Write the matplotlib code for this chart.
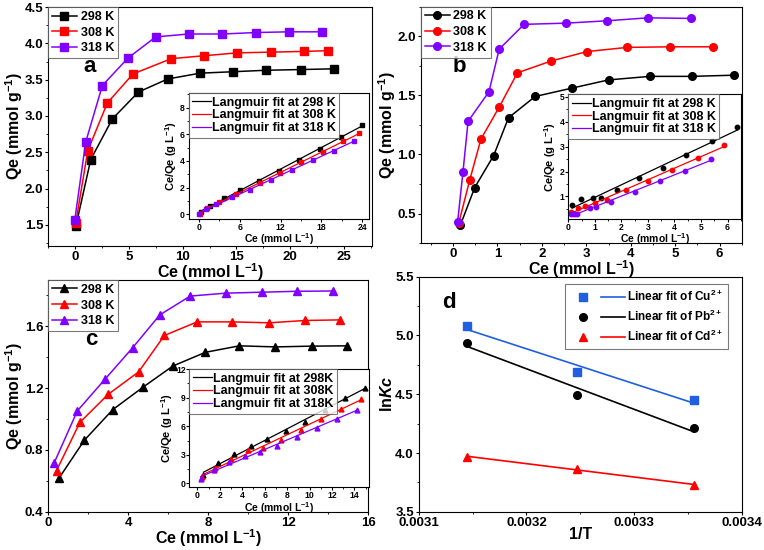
import matplotlib
matplotlib.use("Agg")
import matplotlib.pyplot as plt
import numpy as np
from matplotlib.ticker import MultipleLocator, FormatStrFormatter
from matplotlib.legend_handler import HandlerTuple

plt.rcParams["font.family"] = ["Liberation Sans", "DejaVu Sans"]
plt.rcParams["font.weight"] = "bold"
plt.rcParams["axes.labelweight"] = "bold"
plt.rcParams["mathtext.fontset"] = "custom"
plt.rcParams["mathtext.rm"] = "Liberation Sans:bold"
plt.rcParams["mathtext.bf"] = "Liberation Sans:bold"
plt.rcParams["mathtext.it"] = "Liberation Sans:bold:italic"
plt.rcParams["mathtext.default"] = "bf"

temps = ["298 K", "308 K", "318 K"]
colors = ["#000000", "#ff0000", "#8000ff"]

# panel a (squares)
a_ce = [
    [0.09, 1.46, 3.47, 5.89, 8.61, 11.62, 14.7, 17.7, 20.97, 24.07],
    [0.06, 1.18, 3.0, 5.39, 8.95, 11.96, 15.06, 18.19, 21.25, 23.51],
    [-0.03, 0.99, 2.54, 4.93, 7.5, 10.56, 13.69, 16.79, 19.86, 22.99],
]
a_qe = [
    [1.49, 2.40, 2.96, 3.33, 3.51, 3.59, 3.61, 3.63, 3.64, 3.65],
    [1.52, 2.52, 3.18, 3.58, 3.79, 3.83, 3.87, 3.88, 3.89, 3.90],
    [1.56, 2.64, 3.42, 3.80, 4.09, 4.13, 4.13, 4.15, 4.16, 4.16],
]
a_in_x = [
    [0.29, 1.68, 3.65, 6.06, 8.8, 11.78, 14.71, 17.84, 20.87, 23.99],
    [0.1, 1.2, 3.0, 5.4, 8.95, 11.96, 15.06, 18.19, 21.25, 23.5],
    [0.05, 1.0, 2.55, 4.93, 7.5, 10.56, 13.69, 16.79, 19.86, 22.8],
]
a_in_y = [
    [0.15, 0.64, 1.24, 1.81, 2.50, 3.27, 4.09, 4.93, 5.80, 6.66],
    [0.05, 0.47, 0.94, 1.51, 2.36, 3.12, 3.89, 4.69, 5.46, 6.07],
    [0.05, 0.38, 0.74, 1.30, 1.83, 2.56, 3.31, 4.05, 4.78, 5.52],
]

# panel b (circles)
b_ce = [
    [0.165, 0.49, 0.915, 1.25, 1.85, 2.67, 3.5, 4.43, 5.37, 6.33],
    [0.13, 0.375, 0.63, 1.04, 1.45, 2.21, 3.02, 3.92, 4.88, 5.85],
    [0.105, 0.225, 0.34, 0.81, 1.04, 1.6, 2.54, 3.47, 4.38, 5.36],
]
b_qe = [
    [0.40, 0.72, 0.99, 1.31, 1.49, 1.56, 1.63, 1.66, 1.66, 1.67],
    [0.42, 0.78, 1.13, 1.40, 1.69, 1.79, 1.87, 1.905, 1.91, 1.91],
    [0.43, 0.85, 1.28, 1.53, 1.89, 2.10, 2.11, 2.13, 2.155, 2.15],
]
b_in_x = [
    [0.14, 0.47, 0.93, 1.24, 1.84, 2.66, 3.56, 4.43, 5.41, 6.37],
    [0.08, 0.37, 0.62, 1.0, 1.46, 2.19, 3.01, 3.91, 4.88, 5.88],
    [0.1, 0.22, 0.33, 0.8, 1.03, 1.59, 2.52, 3.46, 4.39, 5.39],
]
b_in_y = [
    [0.67, 0.88, 0.93, 0.95, 1.25, 1.73, 2.15, 2.66, 3.23, 3.78],
    [0.37, 0.52, 0.60, 0.73, 0.86, 1.25, 1.64, 2.07, 2.55, 3.07],
    [0.29, 0.28, 0.28, 0.54, 0.56, 0.78, 1.18, 1.63, 2.04, 2.50],
]

# panel c (triangles)
c_ce = [
    [0.55, 1.81, 3.23, 4.74, 6.23, 7.86, 9.56, 11.36, 13.17, 14.96],
    [0.42, 1.59, 3.0, 4.52, 5.81, 7.45, 9.2, 11.06, 12.83, 14.6],
    [0.3, 1.46, 2.85, 4.22, 5.58, 7.1, 8.89, 10.67, 12.43, 14.24],
]
c_qe = [
    [0.619, 0.863, 1.061, 1.206, 1.343, 1.432, 1.474, 1.467, 1.472, 1.474],
    [0.667, 0.979, 1.16, 1.305, 1.541, 1.629, 1.629, 1.623, 1.638, 1.642],
    [0.716, 1.053, 1.259, 1.461, 1.674, 1.796, 1.815, 1.821, 1.827, 1.829],
]
c_in_y = [
    [0.89, 2.10, 3.04, 3.93, 4.64, 5.49, 6.49, 7.74, 8.95, 10.05],
    [0.63, 1.62, 2.59, 3.46, 3.77, 4.57, 5.65, 6.81, 7.83, 8.85],
    [0.42, 1.39, 2.26, 2.89, 3.33, 3.95, 4.90, 5.86, 6.80, 7.75],
]
c_fit_labels = ["Langmuir fit at 298K", "Langmuir fit at 308K", "Langmuir fit at 318K"]

# panel d
inv_t = [0.003145, 0.003247, 0.003356]
lnkc = {
    "Cu": [5.08, 4.69, 4.45],
    "Pb": [4.94, 4.49, 4.21],
    "Cd": [3.97, 3.86, 3.73],
}
d_colors = {"Cu": "#1f5fe0", "Pb": "#000000", "Cd": "#ff0000"}
d_markers = {"Cu": "s", "Pb": "o", "Cd": "^"}


def style(ax, xmaj, xmin, ymaj, ymin, size, minor_len=1.5, major_len=2.5):
    ax.set_facecolor("none")
    ax.xaxis.set_major_locator(MultipleLocator(xmaj))
    ax.xaxis.set_minor_locator(MultipleLocator(xmin))
    ax.yaxis.set_major_locator(MultipleLocator(ymaj))
    ax.yaxis.set_minor_locator(MultipleLocator(ymin))
    ax.tick_params(which="major", direction="out", length=major_len, labelsize=size, pad=1)
    ax.tick_params(which="minor", direction="out", length=minor_len)
    for lab in ax.get_xticklabels() + ax.get_yticklabels():
        lab.set_fontweight("bold")


def main_legend(ax):
    leg = ax.legend(loc="upper left", borderaxespad=0, fontsize=9, handlelength=2.0,
                    fancybox=False, edgecolor="0.35", borderpad=0.3, labelspacing=0.3,
                    handletextpad=0.3)
    leg.get_frame().set_linewidth(0.8)


def inset_legend(ax):
    leg = ax.legend(loc="upper left", borderaxespad=0, fontsize=9, handlelength=1.5,
                    fancybox=False, edgecolor="0.35", borderpad=0.3, labelspacing=0.05,
                    handletextpad=0.05)
    leg.get_frame().set_linewidth(0.8)


def fit_line(ax, x, y, color, label):
    k, b = np.polyfit(x, y, 1)
    xs = np.array([min(x), max(x)])
    ax.plot(xs, k * xs + b, color=color, lw=0.9, label=label)


def labels(ax, xl, yl, size=11.5, xpad=-1):
    ax.set_xlabel(xl, fontsize=size, labelpad=xpad)
    ax.set_ylabel(yl, fontsize=size, labelpad=0)


def inset_labels(ax):
    ax.tick_params(which="major", pad=0.5)
    ax.set_xlabel("Ce (mmol L$^{-1}$)", fontsize=7.5, labelpad=0)
    ax.set_ylabel("Ce/Qe (g L$^{-1}$)", fontsize=8, labelpad=1)


fig = plt.figure(figsize=(7.64, 5.5), dpi=100)

# ---- a
ax = fig.add_axes([0.063, 0.553, 0.424, 0.434])
for i in range(3):
    ax.plot(a_ce[i], a_qe[i], "-s", color=colors[i], ms=5.5, lw=1.1, label=temps[i])
ax.set_xlim(-2.5, 27.6)
ax.set_ylim(1.21, 4.5)
style(ax, 5, 2.5, 0.5, 0.25, 9.5)
labels(ax, "Ce (mmol L$^{-1}$)", "Qe (mmol g$^{-1}$)")
main_legend(ax)
ax.text(0.108, 0.75, "a", transform=ax.transAxes, fontsize=16, weight="bold", va="center")

ins = fig.add_axes([0.247, 0.602, 0.236, 0.229])
ins.set_zorder(3)
for i in range(3):
    ins.plot(a_in_x[i], a_in_y[i], "s", color=colors[i], ms=3.2, lw=0)
    fit_line(ins, a_in_x[i], a_in_y[i], colors[i], "Langmuir fit at " + temps[i])
ins.set_xlim(-1.5, 25)
ins.set_ylim(-0.35, 9.1)
style(ins, 6, 3, 2, 1, 6.2, 1.2, 2.2)
ins.set_facecolor("white")
inset_labels(ins)
inset_legend(ins)

# ---- b
ax = fig.add_axes([0.551, 0.558, 0.42, 0.43])
for i in range(3):
    ax.plot(b_ce[i], b_qe[i], "-o", color=colors[i], ms=5.5, lw=1.1, label=temps[i])
ax.set_xlim(-0.72, 6.5)
ax.set_ylim(0.25, 2.25)
style(ax, 1, 0.5, 0.5, 0.25, 9.5)
labels(ax, "Ce (mmol L$^{-1}$)", "Qe (mmol g$^{-1}$)")
main_legend(ax)
ax.text(0.098, 0.745, "b", transform=ax.transAxes, fontsize=16, weight="bold", va="center")

ins = fig.add_axes([0.744, 0.602, 0.2256, 0.2266])
ins.set_zorder(3)
for i in range(3):
    ins.plot(b_in_x[i], b_in_y[i], "o", color=colors[i], ms=3.2, lw=0)
    fit_line(ins, b_in_x[i], b_in_y[i], colors[i], "Langmuir fit at " + temps[i])
ins.set_xlim(0, 6.5)
ins.set_ylim(0.1, 5.1)
style(ins, 1, 0.5, 1, 0.5, 6.2, 1.2, 2.2)
ins.set_facecolor("white")
inset_labels(ins)
inset_legend(ins)

# ---- c
ax = fig.add_axes([0.063, 0.0695, 0.419, 0.4214])
for i in range(3):
    ax.plot(c_ce[i], c_qe[i], "-^", color=colors[i], ms=6, lw=1.1, label=temps[i])
ax.set_xlim(0, 16)
ax.set_ylim(0.4, 1.9)
style(ax, 4, 2, 0.4, 0.2, 9.5)
labels(ax, "Ce (mmol L$^{-1}$)", "Qe (mmol g$^{-1}$)")
main_legend(ax)
ax.text(0.115, 0.742, "c", transform=ax.transAxes, fontsize=16, weight="bold", va="center")

ins = fig.add_axes([0.248, 0.114, 0.235, 0.215])
ins.set_zorder(3)
for i in range(3):
    ins.plot(c_ce[i], c_in_y[i], "^", color=colors[i], ms=3.5, lw=0)
    fit_line(ins, c_ce[i], c_in_y[i], colors[i], c_fit_labels[i])
ins.set_xlim(-0.7, 15.3)
ins.set_ylim(-0.4, 12)
style(ins, 2, 1, 3, 1.5, 6.2, 1.2, 2.2)
ins.set_facecolor("white")
inset_labels(ins)
inset_legend(ins)

# ---- d
ax = fig.add_axes([0.548, 0.0695, 0.423, 0.4274])
handles = []
for ion in ["Cu", "Pb", "Cd"]:
    sc, = ax.plot(inv_t, lnkc[ion], d_markers[ion], color=d_colors[ion], ms=5.5, lw=0)
    k, b = np.polyfit(inv_t, lnkc[ion], 1)
    xs = np.array([min(inv_t), max(inv_t)])
    ln, = ax.plot(xs, k * xs + b, color=d_colors[ion], lw=1.2)
    handles.append((sc, ln))
ax.set_xlim(0.0031, 0.0034)
ax.set_ylim(3.5, 5.5)
style(ax, 0.0001, 0.00005, 0.5, 0.25, 9.5)
ax.xaxis.set_major_formatter(FormatStrFormatter("%.4f"))
for lab in ax.get_xticklabels():
    lab.set_fontweight("bold")
labels(ax, "1/T", "ln$\\it{Kc}$")
leg = ax.legend(handles, ["Linear fit of Cu$^{2+}$", "Linear fit of Pb$^{2+}$",
                          "Linear fit of Cd$^{2+}$"],
                handler_map={tuple: HandlerTuple(ndivide=None, pad=0.5)},
                loc="upper right", bbox_to_anchor=(0.957, 0.97), borderaxespad=0,
                fontsize=8.5, handlelength=4.6, fancybox=False, edgecolor="0.35",
                borderpad=0.45, labelspacing=0.4, handletextpad=0.2)
leg.get_frame().set_linewidth(0.8)
ax.text(0.074, 0.89, "d", transform=ax.transAxes, fontsize=16, weight="bold", va="center")

fig.savefig("out.png", dpi=100)
